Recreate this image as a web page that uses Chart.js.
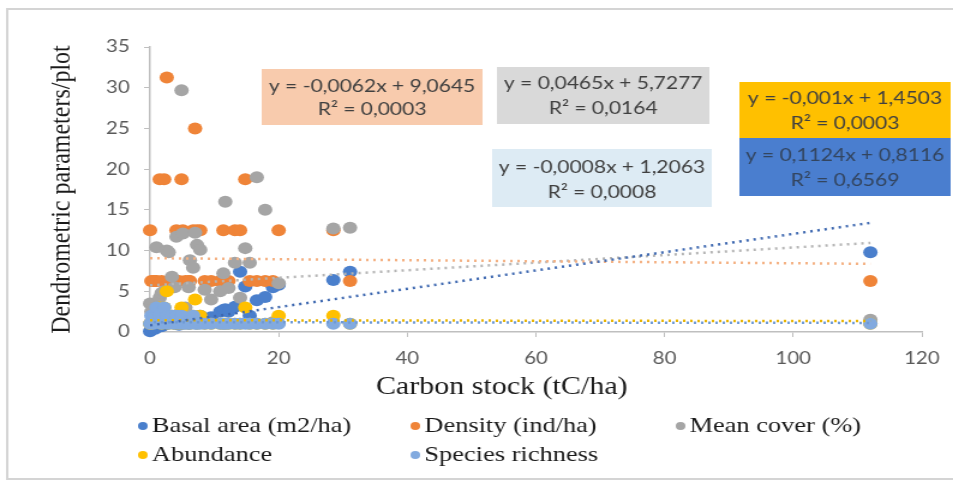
<!DOCTYPE html>
<html>
<head>
<meta charset="utf-8">
<script src="https://cdn.jsdelivr.net/npm/chart.js@4.4.0/dist/chart.umd.min.js"></script>
<style>
  html, body { margin:0; padding:0; background:#fff; overflow:hidden; }
  #wrap { width:953px; height:482px; overflow:hidden; }
  /* the reference picture is stretched sideways, so the canvas is too */
  #chart { display:block; width:794px; height:482px; transform:scaleX(1.2003); transform-origin:0 0; }
</style>
</head>
<body>
<div id="wrap"><canvas id="chart" width="794" height="482"></canvas></div>
<script>

// one entry per plot
var carbon    = [0, 0.2, 0.5, 0.8, 1.0, 1.5, 1.8, 2.2, 2.6, 2.9, 3.4, 3.8, 4.1, 4.5, 4.9, 5.1, 5.5, 6.0, 6.2, 6.7,
                 7.0, 7.3, 7.8, 8.5, 9.5, 10.9, 11.4, 11.7, 12.2, 13.2, 14.0, 14.8, 15.5, 16.6, 17.9, 19.1, 20.0, 28.5, 31.1, 112];
var basalArea = [0.1, 0.3, 0.5, 0.4, 0.6, 0.8, 0.7, 0.9, 1.0, 1.1, 1.2, 1.0, 1.3, 0.9, 1.4, 1.2, 1.5, 1.3, 1.6, 1.8,
                 1.9, 1.7, 2.0, 1.5, 1.8, 2.5, 2.7, 2.8, 2.5, 3.1, 7.4, 5.6, 2.0, 3.9, 4.3, 5.5, 5.8, 6.4, 7.4, 9.8];
var density   = [12.5, 6.25, 6.25, 6.25, 6.25, 18.75, 6.25, 18.75, 31.25, 6.25, 6.25, 6.25, 12.5, 6.25, 18.75, 12.5, 6.25, 6.25, 6.25, 12.5,
                 25, 12.5, 12.5, 6.25, 6.25, 6.25, 12.5, 6.25, 6.25, 12.5, 12.5, 18.75, 6.25, 6.25, 6.25, 6.25, 12.5, 12.5, 6.25, 6.25];
var meanCover = [3.5, 2.5, 1.8, 3.0, 10.4, 4.2, 4.8, 5.0, 10.0, 9.8, 6.8, 5.5, 11.7, 2.2, 29.7, 12.1, 3.0, 5.5, 8.8, 7.9,
                 12.2, 10.7, 10.1, 5.2, 4.0, 5.0, 7.2, 16.0, 5.4, 8.5, 4.2, 10.3, 8.5, 19.0, 15.0, 1.2, 6.0, 12.7, 12.8, 1.5];
var abundance = [1, 1, 1.5, 2, 2, 3, 1, 3, 5, 1, 2, 1, 2, 1, 3, 1, 1.5, 1, 1, 2,
                 4, 1, 2, 1, 1, 1, 1, 1, 1, 1, 1, 3, 1, 1, 1, 1, 2, 2, 1, 1];
var richness  = [1, 2, 1, 2, 3, 2, 1, 3, 2, 1, 2, 1, 2, 1, 2, 1, 1, 1, 1, 2,
                 1, 1, 1, 1, 1, 1, 1, 1, 1, 1, 1, 1, 1, 1, 1, 1, 1, 1, 1, 1];

var seriesNames  = ['Basal area (m2/ha)', 'Density (ind/ha)', 'Mean cover (%)', 'Abundance', 'Species richness'];
var seriesValues = [basalArea, density, meanCover, abundance, richness];
var seriesColors = ['#4A7FCC', '#EF8438', '#A5A5A5', '#FFC000', '#82AADF'];
var trendColors  = ['#3E68B0', '#F4B183', '#B4B4B4', '#E8B400', '#6F9BD6'];

// linear trend lines as printed on the chart
var trendSlope     = [0.1124, -0.0062, 0.0465, -0.001, -0.0008];
var trendIntercept = [0.8116, 9.0645, 5.7277, 1.4503, 1.2063];
var trendFrom = 0, trendTo = 112;
var eqLines = [
  ['y = 0,1124x + 0,8116', 'R² = 0,6569'],
  ['y = -0,0062x + 9,0645', 'R² = 0,0003'],
  ['y = 0,0465x + 5,7277', 'R² = 0,0164'],
  ['y = -0,001x + 1,4503', 'R² = 0,0003'],
  ['y = -0,0008x + 1,2063', 'R² = 0,0008']
];

var xTicks = [0, 20, 40, 60, 80, 100, 120];
var yTicks = [0, 5, 10, 15, 20, 25, 30, 35];

// label boxes (canvas px, before the stretch)
var eqBoxes = [
  {x1:616, x2:792, y1:138, y2:196, fill:'#4A7ECF', t1:155, t2:180},
  {x1:218, x2:402, y1:69,  y2:125, fill:'#F8CBAD', t1:86,  t2:109},
  {x1:414, x2:591, y1:67,  y2:124, fill:'#D9D9D9', t1:83,  t2:108},
  {x1:616, x2:792, y1:82,  y2:138, fill:'#FFC000', t1:98,  t2:123},
  {x1:410, x2:593, y1:149, y2:207, fill:'#DDEBF4', t1:167, t2:192}
];
var legendSpots = [[119, 426], [346, 426], [567, 426], [119, 455], [346, 455]];

var datasets = [];
seriesNames.forEach(function(name, s) {
  datasets.push({
    label: name,
    data: carbon.map(function(c, i) { return {x: c, y: seriesValues[s][i]}; }),
    backgroundColor: seriesColors[s],
    borderWidth: 0,
    pointRadius: 6,
    pointHoverRadius: 6,
    clip: false,
    order: 10 - s
  });
});
seriesNames.forEach(function(name, s) {
  datasets.push({
    label: 'trend ' + name,
    data: [trendFrom, trendTo].map(function(c) { return {x: c, y: trendSlope[s] * c + trendIntercept[s]}; }),
    showLine: true,
    borderColor: trendColors[s],
    borderWidth: 2.5,
    borderDash: [2, 4],
    borderDashOffset: s == 4 ? 3 : 0,
    pointRadius: 0,
    fill: false,
    order: 0
  });
});

var extras = {
  id: 'extras',
  beforeDraw: function(chart) {
    var ctx = chart.ctx;
    ctx.save();
    ctx.strokeStyle = '#d4d4d4';
    ctx.lineWidth = 2;
    ctx.strokeRect(6, 9, 900, 470);
    ctx.restore();
  },
  afterDraw: function(chart) {
    var ctx = chart.ctx;
    ctx.save();
    eqBoxes.forEach(function(b, i) {
      ctx.fillStyle = b.fill;
      ctx.fillRect(b.x1, b.y1, b.x2 - b.x1, b.y2 - b.y1);
      ctx.fillStyle = i == 0 ? '#33455f' : '#404040';
      ctx.font = '17.5px Lato';
      ctx.textAlign = 'center';
      ctx.textBaseline = 'middle';
      var cx = (b.x1 + b.x2) / 2;
      ctx.fillText(eqLines[i][0], cx, b.t1);
      ctx.fillText(eqLines[i][1], cx, b.t2);
    });
    // legend
    ctx.font = '22px "Liberation Serif"';
    ctx.textAlign = 'left';
    ctx.textBaseline = 'middle';
    legendSpots.forEach(function(p, i) {
      ctx.fillStyle = seriesColors[i];
      ctx.beginPath();
      ctx.arc(p[0], p[1], 4, 0, Math.PI * 2);
      ctx.fill();
      ctx.fillStyle = '#1a1a1a';
      ctx.fillText(seriesNames[i], p[0] + 7.5, p[1]);
    });
    // x axis title
    ctx.font = '25px "Liberation Serif"';
    ctx.textAlign = 'center';
    ctx.fillText('Carbon stock (tC/ha)', 418, 387);
    ctx.restore();
  }
};

new Chart(document.getElementById('chart'), {
  type: 'scatter',
  data: { datasets: datasets },
  plugins: [extras],
  options: {
    responsive: false,
    devicePixelRatio: 1,
    animation: false,
    layout: { padding: { left: 0, right: 26, top: 47, bottom: 0 } },
    plugins: { legend: { display: false }, tooltip: { enabled: false } },
    scales: {
      x: {
        type: 'linear',
        min: xTicks[0],
        max: xTicks[xTicks.length - 1],
        afterBuildTicks: function(s) { s.ticks = xTicks.map(function(v) { return {value: v}; }); },
        afterFit: function(s) { s.height = 150; },
        grid: { drawOnChartArea: false, drawTicks: true, tickLength: 5, tickColor: '#bfbfbf' },
        border: { color: '#bfbfbf', width: 1.5 },
        ticks: { font: { family: 'Lato', size: 17 }, color: '#595959', padding: 11 }
      },
      y: {
        type: 'linear',
        min: yTicks[0],
        max: yTicks[yTicks.length - 1],
        afterBuildTicks: function(s) { s.ticks = yTicks.map(function(v) { return {value: v}; }); },
        afterFit: function(s) { s.width = 125; },
        grid: { drawOnChartArea: false, drawTicks: true, tickLength: 5, tickColor: '#bfbfbf' },
        border: { color: '#bfbfbf', width: 1.5 },
        ticks: { font: { family: 'Lato', size: 17 }, color: '#595959', padding: 12 },
        title: {
          display: true,
          text: 'Dendrometric parameters/plot',
          font: { family: 'Liberation Serif', size: 24 },
          color: '#1a1a1a',
          padding: { top: 37, bottom: 0 }
        }
      }
    }
  }
});
</script>
</body>
</html>
